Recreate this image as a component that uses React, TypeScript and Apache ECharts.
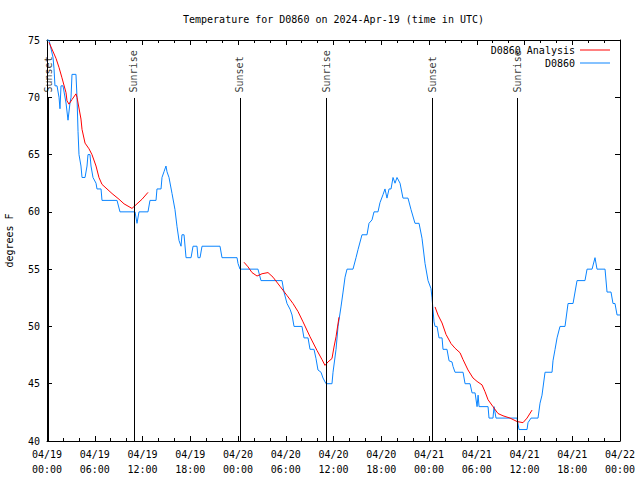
import React, { useEffect, useRef } from "react";
import * as echarts from "echarts";

// ---- data (hours since 04/19 00:00 UTC) ----
const chartTitle = "Temperature for D0860 on 2024-Apr-19 (time in UTC)";
const yAxisTitle = "degrees F";
const seriesNames = ["D0860 Analysis", "D0860"];

const observed: [number, number][] = [
  [0, 75], [0.25, 75], [0.75, 73.5], [0.88, 72.5], [1.0, 71], [1.26, 71], [1.51, 70], [1.63, 69],
  [1.76, 71], [2.01, 71], [2.39, 69.5], [2.64, 68], [2.89, 69.5], [3.02, 70], [3.14, 72], [3.64, 72],
  [3.77, 70], [3.9, 67], [4.02, 65], [4.27, 64], [4.4, 63], [4.78, 63], [5.03, 64], [5.15, 65],
  [5.4, 65], [5.53, 64], [5.78, 63], [6.16, 62.5], [6.28, 62], [6.79, 62], [6.91, 61], [8.8, 61],
  [9.17, 60], [11.06, 60], [11.31, 59], [11.56, 60], [12.69, 60], [12.94, 61], [13.7, 61], [13.82, 62],
  [14.33, 62], [14.45, 63], [14.7, 63.5], [14.95, 64], [15.08, 63.5], [15.33, 63], [15.71, 61.6],
  [16.08, 60.2], [16.34, 58.7], [16.59, 57.5], [16.84, 57], [16.96, 58], [17.22, 58], [17.47, 56],
  [18.1, 56], [18.35, 57], [18.85, 57], [18.97, 56], [19.23, 56], [19.48, 57], [21.74, 57], [21.99, 56],
  [23.88, 56], [24.0, 55.5], [24.25, 55], [26.51, 55], [26.89, 54], [29.53, 54], [29.78, 53],
  [30.16, 52], [30.54, 51.5], [30.79, 51], [31.04, 50], [32.04, 50], [32.29, 49], [32.8, 49], [33.05, 48],
  [33.55, 48], [33.8, 47.2], [34.05, 46.2], [34.43, 46], [34.68, 45.5], [35.06, 45], [35.81, 45],
  [35.94, 46], [36.32, 48], [36.57, 50], [36.94, 51.7], [37.2, 53], [37.45, 54.3], [37.7, 55], [38.45, 55],
  [38.83, 56], [39.08, 56.7], [39.58, 58], [40.21, 58], [40.46, 59], [40.84, 59.3], [41.09, 60],
  [41.59, 60], [41.84, 60.8], [42.22, 61.5], [42.47, 62], [42.72, 61.2], [42.98, 62], [43.23, 62],
  [43.48, 63], [43.73, 62.5], [43.98, 63], [44.36, 62.5], [44.73, 61.2], [45.36, 61.2], [45.74, 60.2],
  [46.24, 59], [46.75, 59], [47.12, 57.7], [47.5, 55.5], [47.88, 54], [48.25, 53.3], [48.38, 52.5],
  [48.5, 51.5], [48.63, 50.4], [48.76, 50], [49.01, 50], [49.26, 49], [49.64, 49], [49.76, 48],
  [50.26, 48], [50.52, 47], [50.89, 46.9], [51.02, 46.5], [51.27, 46], [52.28, 46], [52.53, 45],
  [53.16, 45], [53.41, 44.2], [53.79, 44.2], [54.04, 43], [54.17, 44], [54.29, 43], [55.42, 43],
  [55.54, 42], [56.04, 42], [56.17, 43], [56.42, 42], [59.06, 42], [59.31, 41], [60.32, 41],
  [60.44, 41.6], [60.82, 42], [61.7, 42], [61.95, 43.3], [62.2, 44], [62.58, 46], [63.46, 46],
  [63.58, 47], [63.84, 48], [64.09, 49], [64.46, 50], [65.09, 50], [65.47, 52], [66.1, 52], [66.6, 54],
  [67.6, 54], [67.86, 55], [68.49, 55], [68.86, 56], [69.11, 55], [70.12, 55], [70.37, 53], [70.87, 53],
  [71.12, 52], [71.37, 52], [71.63, 51], [72, 51],
];

const analysisDay1: [number, number][] = [
  [0.25, 74.8], [1.13, 73.4], [1.51, 72.6], [1.88, 71.7], [2.39, 70.4], [2.51, 69.7], [2.76, 69.4],
  [3.14, 69.8], [3.64, 70.3], [3.77, 70.0], [4.27, 68.1], [4.4, 67.2], [4.78, 66.0], [5.28, 65.5],
  [5.65, 65.0], [6.16, 64.0], [6.53, 63.0], [6.91, 62.4], [7.54, 62.0], [8.17, 61.6], [9.05, 61.1],
  [9.68, 60.7], [10.68, 60.3], [11.31, 60.7], [11.94, 61.1], [12.69, 61.7],
];
const analysisDay2: [number, number][] = [
  [24.76, 55.6], [25.26, 55.2], [25.76, 54.7], [26.39, 54.4], [27.02, 54.6], [27.77, 54.7],
  [28.4, 54.3], [29.28, 53.5], [30.16, 52.7], [30.91, 52.0], [31.54, 51.3], [32.17, 50.4],
  [33.05, 49.1], [33.93, 47.9], [34.56, 47.1], [34.93, 46.6], [35.31, 46.9], [35.81, 47.2],
  [36.06, 48.2], [36.32, 49.1], [36.69, 50.8],
];
const analysisDay3: [number, number][] = [
  [48.76, 51.7], [49.13, 51.0], [49.64, 50.3], [50.14, 49.3], [50.77, 48.5], [51.27, 48.1],
  [51.9, 47.7], [52.28, 47.1], [52.9, 46.2], [53.53, 45.5], [54.04, 45.2], [54.66, 44.9],
  [55.04, 44.3], [55.42, 43.6], [56.04, 43.0], [56.67, 42.4], [57.3, 42.2], [58.18, 42.0],
  [59.06, 41.7], [59.81, 41.6], [60.32, 42.0], [60.95, 42.7],
];

const sunTimes = [0.15, 10.93, 24.25, 35.06, 48.38, 59.06];
const sunNames = ["Sunset", "Sunrise", "Sunset", "Sunrise", "Sunset", "Sunrise"];
const sunLineTop = 69.94;

const xMin = 0;
const xMax = 72;
const xStep = 6;
const yMin = 40;
const yMax = 75;
const yStep = 5;
const startDay = 19;
const monthLabel = "04";

const FONT = "DejaVu Sans Mono";

function fmtX(v: number): string {
  const day = startDay + Math.floor(v / 24);
  const hh = Math.round(v % 24);
  return `${monthLabel}/${day}\n${String(hh).padStart(2, "0")}:00`;
}

export default function App() {
  const ref = useRef<HTMLDivElement>(null);
  useEffect(() => {
    if (!ref.current) return;
    const chart = echarts.init(ref.current, undefined, { renderer: "svg" });
    const analysis: any[] = [
      ...analysisDay1,
      [18, "-"],
      ...analysisDay2,
      [42, "-"],
      ...analysisDay3,
    ];
    const axisCommonX = {
      type: "value" as const,
      min: xMin,
      max: xMax,
      interval: xStep,
      axisLine: { show: true, onZero: false, lineStyle: { color: "#000", width: 1 } },
      axisTick: { show: true, inside: true, length: 5, lineStyle: { color: "#000", width: 1 } },
      minorTick: { show: true, splitNumber: 3, length: 3, lineStyle: { color: "#000", width: 1 } },
      splitLine: { show: false },
      minorSplitLine: { show: false },
    };
    const axisCommonY = {
      type: "value" as const,
      min: yMin,
      max: yMax,
      interval: yStep,
      axisLine: { show: true, onZero: false, lineStyle: { color: "#000", width: 1 } },
      axisTick: { show: true, inside: true, length: 5, lineStyle: { color: "#000", width: 1 } },
      splitLine: { show: false },
    };
    const legendCommon = {
      right: 30,
      padding: 0,
      align: "right" as const,
      icon: "rect",
      itemWidth: 30,
      itemHeight: 1,
      selectedMode: false,
      textStyle: { fontFamily: FONT, fontSize: 10, color: "#000" },
    };
    chart.setOption({
      animation: false,
      backgroundColor: "#fff",
      graphic: [
        {
          type: "text",
          x: 333.5,
          y: 19,
          style: {
            text: chartTitle,
            fontFamily: FONT,
            fontSize: 10,
            fill: "#000",
            align: "center",
            verticalAlign: "middle",
          },
        },
      ],
      grid: { left: 47, right: 20, top: 40, bottom: 39, containLabel: false, outerBoundsMode: "none" },
      legend: [
        { ...legendCommon, data: [seriesNames[0]], top: 45 },
        { ...legendCommon, data: [seriesNames[1]], top: 58 },
      ],
      xAxis: [
        {
          ...axisCommonX,
          position: "bottom",
          axisLabel: {
            show: true,
            formatter: fmtX,
            fontFamily: FONT,
            fontSize: 10,
            color: "#000",
            lineHeight: 15,
            margin: 6,
          },
        },
        { ...axisCommonX, position: "top", axisLabel: { show: false } },
      ],
      yAxis: [
        {
          ...axisCommonY,
          position: "left",
          name: yAxisTitle,
          nameLocation: "middle",
          nameRotate: 90,
          nameGap: 33,
          nameTextStyle: { fontFamily: FONT, fontSize: 10, color: "#000" },
          axisLabel: { show: true, fontFamily: FONT, fontSize: 10, color: "#000", margin: 7 },
        },
        { ...axisCommonY, position: "right", axisLabel: { show: false } },
      ],
      series: [
        {
          name: seriesNames[0],
          type: "line",
          data: analysis,
          symbol: "none",
          showSymbol: false,
          connectNulls: false,
          lineStyle: { color: "#ff0000", width: 1 },
          itemStyle: { color: "#ff0000" },
          z: 4,
        },
        {
          name: seriesNames[1],
          type: "line",
          data: observed,
          symbol: "none",
          showSymbol: false,
          lineStyle: { color: "#0a84ff", width: 1 },
          itemStyle: { color: "#0a84ff" },
          z: 3,
          markLine: {
            silent: true,
            symbol: ["none", "none"],
            label: { show: false },
            lineStyle: { color: "#000", width: 1, type: "solid" },
            data: sunTimes.map((t) => [{ coord: [t, yMin] }, { coord: [t, sunLineTop] }]),
          },
        },
        {
          name: "sun",
          type: "scatter",
          symbolSize: 1,
          itemStyle: { color: "rgba(0,0,0,0)" },
          data: sunTimes.map((t, i) => ({ value: [t, sunLineTop], name: sunNames[i] })),
          label: {
            show: true,
            formatter: "{b}",
            position: "top",
            distance: 5,
            rotate: 90,
            align: "left",
            verticalAlign: "middle",
            fontFamily: FONT,
            fontSize: 10,
            color: "#000",
          },
          z: 5,
        },
      ],
    });
    return () => chart.dispose();
  }, []);
  return <div ref={ref} style={{ width: 640, height: 480, position: "absolute", left: 0, top: 0 }} />;
}
